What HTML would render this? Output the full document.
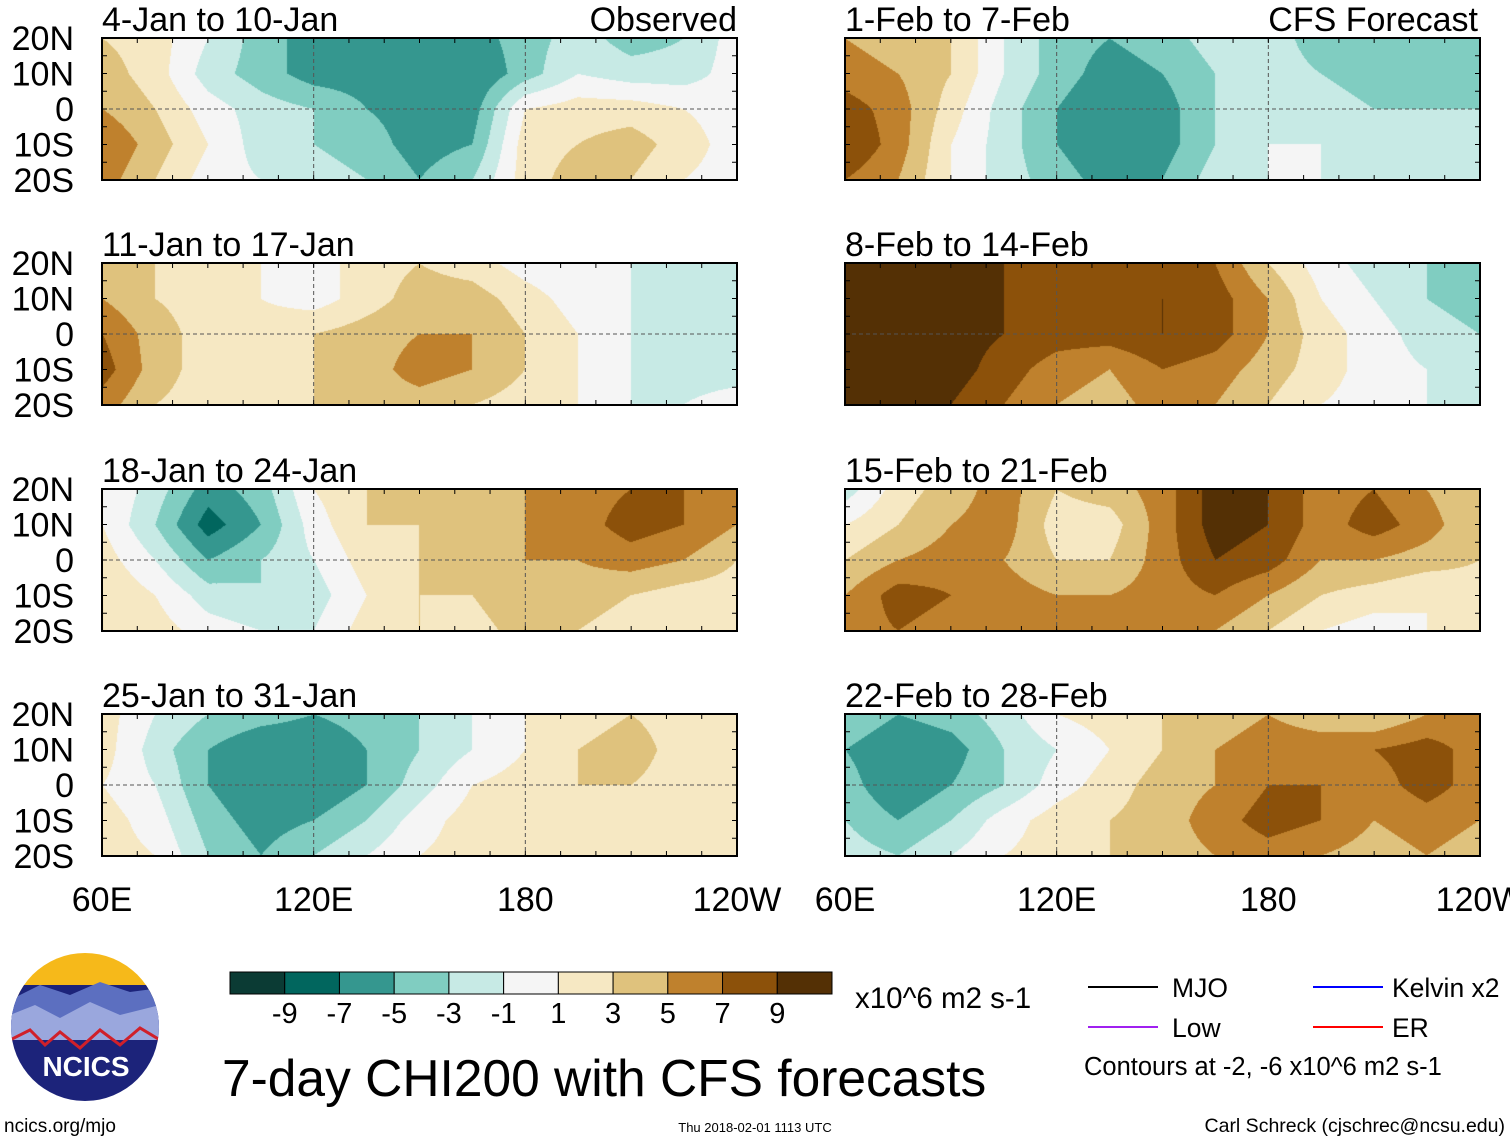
<!DOCTYPE html>
<html><head><meta charset="utf-8">
<style>
body{margin:0;background:#fff;width:1510px;height:1142px;overflow:hidden;position:relative;font-family:"Liberation Sans",sans-serif}
canvas{position:absolute}
svg{position:absolute;left:0;top:0}
</style></head><body>
<canvas id="maps" width="1510" height="1142" style="left:0;top:0"></canvas>
<svg id="ov" width="1510" height="1142"></svg>
<script>
const binColors=["#0b3b34","#01665e","#35978f","#80cdc1","#c7eae5","#f5f5f5","#f6e8c3","#dfc27d","#bf812d","#8c510a","#543005"];
const binLabels=["-9","-7","-5","-3","-1","1","3","5","7","9"];
const panelTitles=["4-Jan to 10-Jan","11-Jan to 17-Jan","18-Jan to 24-Jan","25-Jan to 31-Jan","1-Feb to 7-Feb","8-Feb to 14-Feb","15-Feb to 21-Feb","22-Feb to 28-Feb"];
const latLabels=["20N","10N","0","10S","20S"];
const lonLabels=["60E","120E","180","120W"];
const lonTicks=[60,120,180,240];
// grid values: rows 20N,10N,0,10S,20S ; cols 60E..120W every 15 deg
const panel1=[[3,2,-1,-4,-6,-6,-6,-6,-4,-2,-4,-3,0],[4,2,-2,-4,-6,-6,-7,-7,-4,-1,-2,-2,0],[5,3,0,-2,-3,-5,-6,-6,1,2,2,1,0],[7,4,1,-2,-3,-4,-6,-5,2,3,4,2,0],[6,3,0,-1,-2,-3,-5,-3,2,4,3,1,0]];
const panel2=[[4,3,2,1,0,2,3,2,0,-1,-1,-2,-3],[5,3,2,1,0,2,4,4,2,0,-1,-2,-3],[7,4,2,2,3,4,5,5,3,1,-1,-2,-3],[8,4,2,2,3,4,6,5,3,1,-1,-2,-2],[6,3,2,2,3,4,4,3,2,1,-1,-1,0]];
const panel3=[[1,-2,-6,-4,1,3,4,4,5,6,7,7,5],[1,-3,-8,-5,0,3,3,4,5,6,8,7,5],[2,-1,-5,-3,-1,2,3,4,5,5,6,5,3],[3,1,-2,-3,-2,1,3,3,5,4,3,2,2],[3,2,0,-1,-1,2,3,2,4,3,2,2,2]];
const panel4=[[2,-1,-3,-4,-5,-4,-3,-1,1,2,3,2,1],[2,-2,-5,-7,-7,-5,-3,-1,1,3,4,2,1],[1,-1,-5,-7,-7,-5,-2,1,2,3,3,2,1],[2,0,-4,-6,-5,-3,0,2,2,3,2,2,1],[2,1,-3,-5,-3,-1,1,2,2,3,2,2,1]];
const panel5=[[5,4,3,-1,-4,-5,-4,-2,-2,-4,-5,-5,-4],[6,5,3,-1,-4,-6,-5,-3,-2,-3,-4,-4,-3],[8,6,2,-2,-5,-7,-6,-3,-2,-2,-3,-3,-3],[9,6,1,-2,-5,-7,-6,-3,-1,-1,-2,-2,-2],[7,5,1,-2,-4,-6,-5,-2,-1,-1,-1,-1,-1]];
const panel6=[[10,10,10,9,8,8,8,7,3,0,-2,-3,-4],[10,10,10,9,9,9,9,8,5,1,-1,-3,-4],[10,10,10,9,8,8,9,8,5,2,0,-2,-3],[10,10,10,8,6,5,7,6,4,2,0,-1,-2],[10,10,9,7,5,4,6,5,3,1,0,-1,-2]];
const panel7=[[-2,2,4,6,3,4,6,10,9,6,7,5,3],[1,3,5,6,2,2,6,10,9,6,8,6,3],[3,5,6,5,3,3,6,9,8,5,5,4,3],[5,8,7,6,5,5,6,7,5,3,2,1,2],[6,7,6,5,6,6,6,5,3,1,0,1,1]];
const panel8=[[-3,-5,-4,-2,1,2,3,4,5,4,3,5,6],[-5,-7,-6,-3,-1,1,3,5,6,6,7,8,6],[-4,-7,-5,-3,0,2,4,5,7,7,6,8,6],[-3,-5,-3,0,2,3,4,6,8,7,5,6,5],[-2,-3,-1,1,2,3,4,5,6,5,4,5,4]];
const panels=[panel1,panel2,panel3,panel4,panel5,panel6,panel7,panel8];

const PW=635,PH=142,colX=[102,845],rowY=[38,263,489,714];
const LON0=60,LON1=240,DLON=15;
const NS="http://www.w3.org/2000/svg";
const ov=document.getElementById('ov');
function mk(tag,attrs,txt){const e=document.createElementNS(NS,tag);for(const k in attrs)e.setAttribute(k,attrs[k]);if(txt!==undefined)e.textContent=txt;ov.appendChild(e);return e;}
function lonX(x0,lon){return x0+(lon-LON0)/(LON1-LON0)*PW;}
function latY(y0,lat){return y0+(20-lat)/40*PH;}
function hex(c){return [parseInt(c.slice(1,3),16),parseInt(c.slice(3,5),16),parseInt(c.slice(5,7),16)];}
const rgb=binColors.map(hex);
function binIdx(v){return Math.max(0,Math.min(10,Math.floor((v+11)/2)));}

const ctx=document.getElementById('maps').getContext('2d');
panels.forEach((g,p)=>{
  const x0=colX[p<4?0:1],y0=rowY[p%4];
  const img=ctx.createImageData(PW,PH);
  const nc=g[0].length-1;
  for(let py=0;py<PH;py++){
    const lat=20-py/(PH-1)*40;const v=(20-lat)/10;const r0=Math.min(3,Math.floor(v)),fv=v-r0;
    for(let px=0;px<PW;px++){
      const lon=LON0+px/(PW-1)*(LON1-LON0);const u=(lon-LON0)/DLON;const c0=Math.min(nc-1,Math.floor(u)),fu=u-c0;
      const val=(g[r0][c0]*(1-fu)+g[r0][c0+1]*fu)*(1-fv)+(g[r0+1][c0]*(1-fu)+g[r0+1][c0+1]*fu)*fv;
      const c=rgb[binIdx(val)];const i=(py*PW+px)*4;
      img.data[i]=c[0];img.data[i+1]=c[1];img.data[i+2]=c[2];img.data[i+3]=255;
    }
  }
  ctx.putImageData(img,x0,y0);
  mk('line',{x1:x0,x2:x0+PW,y1:latY(y0,0),y2:latY(y0,0),stroke:'#555','stroke-dasharray':'4,3','stroke-width':1});
  [120,180].forEach(l=>mk('line',{x1:lonX(x0,l),x2:lonX(x0,l),y1:y0,y2:y0+PH,stroke:'#555','stroke-dasharray':'4,3','stroke-width':1}));
  const fr=mk('rect',{x:x0,y:y0,width:PW,height:PH,fill:'none',stroke:'#000','stroke-width':2});
  
  
  for(let l=LON0;l<=LON1;l+=10){const x=lonX(x0,l);mk('line',{x1:x,x2:x,y1:y0,y2:y0+5,stroke:'#000'});mk('line',{x1:x,x2:x,y1:y0+PH-5,y2:y0+PH,stroke:'#000'});}
  for(let la=-20;la<=20;la+=5){const y=latY(y0,la);mk('line',{x1:x0,x2:x0+5,y1:y,y2:y,stroke:'#000'});mk('line',{x1:x0+PW-5,x2:x0+PW,y1:y,y2:y,stroke:'#000'});}
  const t=mk('text',{x:x0,y:y0-7,'font-size':34,fill:'#000'},panelTitles[p]);
  
  
  if(p<4){latLabels.forEach((s,i)=>{const e=mk('text',{x:74,y:latY(y0,20-i*10)+12,'font-size':34,'text-anchor':'end'},s);
    
    });}
});
const o1=mk('text',{x:737,y:31,'font-size':34,'text-anchor':'end'},'Observed');


const o2=mk('text',{x:1478,y:31,'font-size':34,'text-anchor':'end'},'CFS Forecast');


colX.forEach(x0=>{lonTicks.forEach((l,i)=>{const e=mk('text',{x:lonX(x0,l),y:911,'font-size':34,'text-anchor':'middle'},lonLabels[i]);
  
  });});
// colorbar
const cbX=230,cbW=602,cbY=972,cbH=22,bw=cbW/11;
binColors.forEach((c,i)=>{const r=mk('rect',{x:cbX+i*bw,y:cbY,width:bw,height:cbH,fill:c,stroke:'#000','stroke-width':1});
  
  });
binLabels.forEach((s,i)=>{const e=mk('text',{x:cbX+(i+1)*bw,y:1023,'font-size':29,'text-anchor':'middle'},s);
  
  });
const un=mk('text',{x:855,y:1008,'font-size':29.5},'x10^6 m2 s-1');


const tt=mk('text',{x:222,y:1096,'font-size':51.5},'7-day CHI200 with CFS forecasts');


// legend
[['MJO','#000',1088,987,1172],['Low','#a020f0',1088,1027,1172],['Kelvin x2','#0000ff',1313,987,1392],['ER','#ff0000',1313,1027,1392]].forEach(l=>{
  const g=mk('line',{x1:l[2],x2:l[2]+70,y1:l[3],y2:l[3],stroke:l[1],'stroke-width':2});
  
  
  const t=mk('text',{x:l[4],y:l[3]+10,'font-size':26.5},l[0]);
  
  });
const cn=mk('text',{x:1084,y:1075,'font-size':25.5},'Contours at -2, -6 x10^6 m2 s-1');


const f1=mk('text',{x:4,y:1132,'font-size':19},'ncics.org/mjo');


const f2=mk('text',{x:755,y:1132,'font-size':13,'text-anchor':'middle'},'Thu 2018-02-01 1113 UTC');


const f3=mk('text',{x:1505,y:1132,'font-size':19.5,'text-anchor':'end'},'Carl Schreck (cjschrec@ncsu.edu)');


// logo
const cp=document.createElementNS(NS,'clipPath');cp.setAttribute('id','lc');const cc=document.createElementNS(NS,'circle');cc.setAttribute('cx',85);cc.setAttribute('cy',1027);cc.setAttribute('r',74);cp.appendChild(cc);ov.appendChild(cp);
const lgg=mk('g',{'clip-path':'url(#lc)'});


[['rect',{x:10,y:952,width:150,height:45,fill:'#f6b91a'}],['rect',{x:10,y:985,width:150,height:120,fill:'#1c237a'}],
 ['path',{d:'M10 1000 L40 985 L70 995 L100 982 L130 992 L160 988 L160 1030 L10 1030Z',fill:'#5c6fc0'}],
 ['path',{d:'M10 1015 L35 1005 L60 1018 L90 1002 L120 1015 L160 1005 L160 1040 L10 1040Z',fill:'#9aa7dd'}],
 ['path',{d:'M10 1040 L30 1030 L45 1045 L60 1032 L80 1048 L100 1030 L120 1045 L140 1028 L160 1040',fill:'none',stroke:'#d0202a','stroke-width':3}]
].forEach(a=>{const e=document.createElementNS(NS,a[0]);for(const k in a[1])e.setAttribute(k,a[1][k]);lgg.appendChild(e);});
const lt=mk('text',{x:86,y:1076,'font-size':28,'font-weight':'bold',fill:'#fff','text-anchor':'middle'},'NCICS');


</script>
</body></html>
